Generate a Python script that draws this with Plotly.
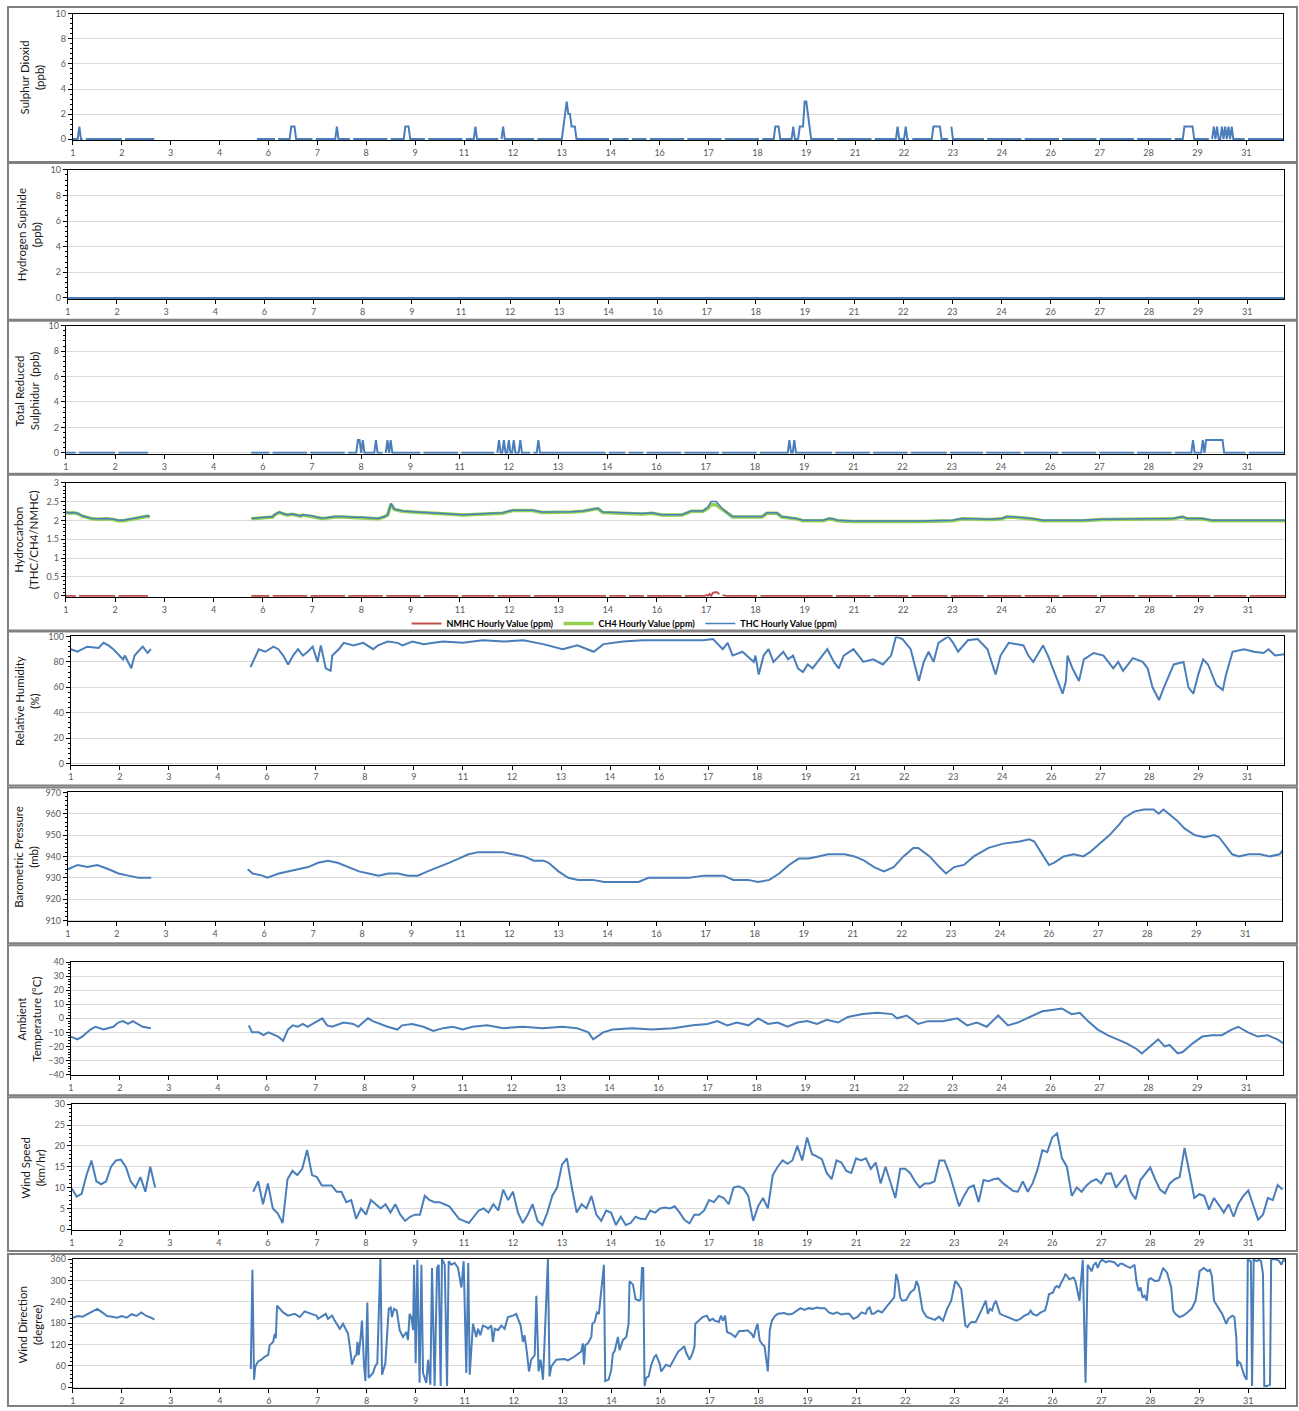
import plotly.graph_objects as go

W, H = 1299, 1411

# ---------------- axis ticks (one label every 30 hours, day of month) ----------------
tick_hours = list(range(0, 721, 30))
tick_labels = ["1", "2", "3", "4", "6", "7", "8", "9", "11", "12", "13", "14", "16",
               "17", "18", "19", "21", "22", "23", "24", "26", "27", "28", "29", "31"]
N_HOURS = 744

# ---------------- hourly gas analyser data ----------------
missing_hours = (51, 112)          # analyser offline (inclusive)
cal_gap_hours = [7, 31, 125, 148, 171, 194, 217, 240, 262, 284, 330, 342, 353, 376, 399,
                 422, 468, 491, 514, 538, 560, 583, 606, 629, 652, 675, 698, 720]

so2_spikes = [(4, 1), (134, 1), (135, 1), (136, 1), (162, 1), (204, 1), (205, 1), (206, 1),
              (247, 1), (264, 1), (301, 1), (302, 2), (303, 3), (304, 2), (305, 2), (306, 1),
              (307, 1), (308, 1), (431, 1), (432, 1), (433, 1), (442, 1), (446, 1), (447, 1),
              (448, 1), (449, 3), (450, 3), (451, 2), (452, 1), (506, 1), (511, 1), (528, 1),
              (529, 1), (530, 1), (531, 1), (532, 1), (539, 1), (682, 1), (683, 1), (684, 1),
              (685, 1), (686, 1), (687, 1), (700, 1), (702, 1), (705, 1), (707, 1), (709, 1),
              (711, 1)]

trs_spikes = [(178, 1), (179, 1), (181, 1), (189, 1), (196, 1), (198, 1), (264, 1), (267, 1),
              (270, 1), (273, 1), (277, 1), (288, 1), (441, 1), (444, 1), (687, 1), (693, 1),
              (695, 1), (696, 1), (697, 1), (698, 1), (699, 1), (700, 1), (701, 1), (702, 1),
              (703, 1), (704, 1), (705, 1)]
trs_gap_hours = [7, 31, 125, 148, 171, 194, 217, 240, 262, 284, 330, 342, 353, 376, 399,
                 422, 468, 491, 514, 538, 560, 583, 606, 629, 652, 675, 720]

h2s_baseline = 0.0

nmhc_bump = [(390, 0.02), (392, 0.05), (394, 0.08), (395, 0.1), (396, 0.1), (397, 0.08),
             (398, 0.05), (400, 0.02)]

# ---------------- hydrocarbon (hour, ppm) ----------------
thc_seg1 = [(0, 2.22), (2, 2.2), (4, 2.21), (7, 2.19), (10, 2.12), (13, 2.08), (16, 2.05),
            (20, 2.04), (25, 2.05), (29, 2.03), (32, 2.0), (35, 2.0), (38, 2.02), (41, 2.05),
            (44, 2.08), (47, 2.1), (50, 2.12), (51, 2.09)]
thc_seg2 = [(113, 2.05), (117, 2.06), (121, 2.07), (126, 2.1), (127, 2.15), (130, 2.22),
            (133, 2.17), (135, 2.15), (138, 2.17), (141, 2.13), (143, 2.12), (144, 2.15),
            (147, 2.13), (150, 2.12), (153, 2.08), (156, 2.06), (159, 2.07), (164, 2.1),
            (169, 2.1), (175, 2.08), (181, 2.08), (186, 2.06), (190, 2.05), (194, 2.1),
            (196, 2.15), (198, 2.45), (200, 2.3), (203, 2.27), (205, 2.25), (211, 2.23),
            (217, 2.22), (223, 2.2), (229, 2.2), (235, 2.17), (242, 2.15), (248, 2.16),
            (254, 2.18), (260, 2.19), (266, 2.2), (272, 2.27), (278, 2.28), (284, 2.27),
            (290, 2.22), (296, 2.22), (302, 2.22), (308, 2.23), (315, 2.25), (320, 2.28),
            (324, 2.32), (327, 2.22), (333, 2.21), (339, 2.2), (345, 2.19), (351, 2.18),
            (357, 2.2), (363, 2.15), (369, 2.15), (375, 2.15), (381, 2.25), (388, 2.25),
            (391, 2.35), (393, 2.5), (396, 2.5), (398, 2.4), (400, 2.3), (403, 2.2),
            (406, 2.1), (412, 2.1), (418, 2.1), (424, 2.1), (427, 2.2), (433, 2.2),
            (436, 2.1), (441, 2.08), (445, 2.05), (449, 2.0), (455, 2.0), (461, 2.0),
            (465, 2.05), (467, 2.04), (470, 2.0), (479, 1.98), (490, 1.98), (500, 1.97),
            (509, 1.98), (520, 1.98), (530, 2.0), (540, 2.0), (546, 2.05), (555, 2.04),
            (563, 2.03), (570, 2.05), (573, 2.1), (578, 2.09), (582, 2.08), (588, 2.05),
            (595, 2.0), (605, 2.0), (619, 2.0), (631, 2.03), (645, 2.03), (660, 2.04),
            (674, 2.05), (680, 2.1), (683, 2.05), (692, 2.05), (698, 2.0), (710, 2.0),
            (725, 2.0), (743, 2.0)]
ch4_seg1 = [(0, 2.21), (2, 2.19), (4, 2.2), (7, 2.18), (10, 2.11), (13, 2.07), (16, 2.04),
            (20, 2.03), (25, 2.04), (29, 2.02), (32, 1.99), (35, 1.99), (38, 2.01), (41, 2.04),
            (44, 2.07), (47, 2.09), (50, 2.11), (51, 2.08)]
ch4_seg2 = [(113, 2.04), (117, 2.05), (121, 2.06), (126, 2.09), (127, 2.14), (130, 2.21),
            (133, 2.16), (135, 2.14), (138, 2.16), (141, 2.12), (143, 2.11), (144, 2.14),
            (147, 2.12), (150, 2.11), (153, 2.07), (156, 2.05), (159, 2.06), (164, 2.09),
            (169, 2.09), (175, 2.07), (181, 2.07), (186, 2.05), (190, 2.04), (194, 2.09),
            (196, 2.14), (198, 2.43), (200, 2.29), (203, 2.26), (205, 2.24), (211, 2.22),
            (217, 2.21), (223, 2.19), (229, 2.19), (235, 2.16), (242, 2.14), (248, 2.15),
            (254, 2.17), (260, 2.18), (266, 2.19), (272, 2.26), (278, 2.27), (284, 2.26),
            (290, 2.21), (296, 2.21), (302, 2.21), (308, 2.22), (315, 2.24), (320, 2.27),
            (324, 2.31), (327, 2.21), (333, 2.2), (339, 2.19), (345, 2.18), (351, 2.17),
            (357, 2.19), (363, 2.14), (369, 2.14), (375, 2.14), (381, 2.24), (388, 2.24),
            (391, 2.32), (393, 2.42), (396, 2.41), (398, 2.34), (400, 2.27), (403, 2.19),
            (406, 2.09), (412, 2.09), (418, 2.09), (424, 2.09), (427, 2.19), (433, 2.19),
            (436, 2.09), (441, 2.07), (445, 2.04), (449, 1.99), (455, 1.99), (461, 1.99),
            (465, 2.04), (467, 2.03), (470, 1.99), (479, 1.97), (490, 1.97), (500, 1.96),
            (509, 1.97), (520, 1.97), (530, 1.99), (540, 1.99), (546, 2.04), (555, 2.03),
            (563, 2.02), (570, 2.04), (573, 2.09), (578, 2.08), (582, 2.07), (588, 2.04),
            (595, 1.99), (605, 1.99), (619, 1.99), (631, 2.02), (645, 2.02), (660, 2.03),
            (674, 2.04), (680, 2.09), (683, 2.04), (692, 2.04), (698, 1.99), (710, 1.99),
            (725, 1.99), (743, 1.99)]

# ---------------- relative humidity (hour, %) ----------------
rh_seg1 = [(0, 90), (4, 88), (10, 92), (17, 91), (20, 95), (23, 93), (26, 90), (29, 86),
           (32, 82), (33, 85), (35, 80), (37, 75), (39, 85), (41, 88), (44, 92), (47, 87),
           (49, 90)]
rh_seg2 = [(110, 76), (113, 85), (115, 90), (119, 88), (124, 92), (127, 90), (130, 85),
           (133, 78), (136, 85), (139, 90), (142, 85), (145, 88), (148, 92), (151, 80),
           (153, 93), (156, 75), (159, 73), (160, 85), (164, 90), (167, 95), (173, 93),
           (179, 95), (185, 90), (188, 93), (194, 96), (200, 95), (203, 93), (209, 96),
           (216, 94), (222, 95), (228, 96), (240, 95), (252, 97), (265, 96), (277, 97),
           (289, 94), (301, 90), (310, 93), (320, 88), (326, 94), (338, 96), (350, 97),
           (362, 97), (375, 97), (387, 97), (393, 98), (399, 90), (402, 95), (405, 85),
           (411, 88), (418, 80), (419, 85), (421, 70), (424, 85), (427, 90), (430, 80),
           (436, 88), (439, 82), (442, 85), (445, 75), (448, 72), (451, 78), (454, 75),
           (457, 80), (460, 85), (463, 90), (467, 80), (470, 75), (473, 85), (479, 90),
           (485, 80), (491, 82), (497, 78), (502, 85), (505, 100), (509, 98), (514, 90),
           (517, 75), (519, 65), (522, 80), (525, 88), (528, 80), (531, 95), (537, 100),
           (540, 95), (543, 88), (549, 97), (555, 98), (561, 90), (566, 70), (569, 85),
           (574, 95), (583, 93), (586, 85), (589, 80), (595, 93), (598, 85), (601, 75),
           (603, 68), (607, 55), (609, 65), (610, 85), (613, 75), (617, 65), (620, 82),
           (626, 87), (632, 85), (635, 80), (638, 75), (641, 80), (644, 73), (650, 83),
           (656, 80), (659, 75), (662, 60), (666, 50), (669, 60), (675, 78), (681, 80),
           (684, 60), (687, 55), (690, 70), (693, 82), (696, 78), (701, 62), (705, 58),
           (707, 70), (711, 88), (718, 90), (724, 88), (730, 87), (733, 90), (737, 85),
           (743, 86)]

# ---------------- barometric pressure (hour, mb) ----------------
bp_seg1 = [(0, 934), (6, 936), (12, 935), (18, 936), (25, 934), (31, 932), (37, 931),
           (43, 930), (51, 930)]
bp_seg2 = [(110, 934), (113, 932), (119, 931), (122, 930), (129, 932), (135, 933), (141, 934),
           (147, 935), (153, 937), (159, 938), (165, 937), (171, 935), (178, 933), (184, 932),
           (190, 931), (196, 932), (202, 932), (208, 931), (214, 931), (220, 933), (227, 935),
           (233, 937), (239, 939), (245, 941), (251, 942), (260, 942), (266, 942), (272, 941),
           (279, 940), (285, 938), (291, 938), (294, 937), (300, 933), (306, 930), (312, 929),
           (321, 929), (328, 928), (340, 928), (349, 928), (355, 930), (364, 930), (373, 930),
           (380, 930), (389, 931), (401, 931), (407, 929), (416, 929), (422, 928), (429, 929),
           (435, 932), (441, 936), (447, 939), (453, 939), (459, 940), (465, 941), (475, 941),
           (481, 940), (487, 938), (493, 935), (499, 933), (505, 935), (511, 940), (517, 944),
           (520, 944), (527, 940), (533, 935), (537, 932), (542, 935), (548, 936), (554, 940),
           (563, 944), (572, 946), (582, 947), (588, 948), (591, 947), (595, 942), (600, 936),
           (603, 937), (609, 940), (615, 941), (621, 940), (625, 942), (631, 946), (637, 950),
           (643, 955), (646, 958), (652, 961), (658, 962), (664, 962), (667, 960), (670, 962),
           (673, 960), (678, 957), (683, 953), (689, 950), (695, 949), (701, 950), (704, 949),
           (708, 945), (712, 941), (716, 940), (722, 941), (729, 941), (735, 940), (741, 941),
           (743, 943)]

# ---------------- ambient temperature (hour, degC) ----------------
temp_seg1 = [(0, -13), (4, -15), (7, -13), (12, -8), (15, -6), (20, -8), (26, -6), (29, -3),
             (32, -2), (35, -4), (38, -2), (44, -6), (49, -7)]
temp_seg2 = [(109, -5), (111, -10), (115, -10), (118, -12), (121, -10), (127, -13), (130, -16),
             (133, -8), (136, -5), (139, -6), (142, -4), (145, -6), (151, -2), (154, 0),
             (157, -5), (160, -6), (167, -3), (173, -4), (176, -6), (179, -3), (182, 0),
             (185, -2), (191, -5), (194, -6), (200, -8), (203, -5), (209, -4), (216, -6),
             (222, -9), (228, -7), (234, -6), (240, -8), (246, -6), (255, -5), (265, -7),
             (277, -6), (289, -7), (301, -6), (310, -7), (317, -10), (320, -15), (326, -10),
             (332, -8), (344, -7), (356, -8), (369, -7), (381, -5), (390, -4), (396, -2),
             (402, -5), (408, -3), (415, -5), (421, 0), (427, -4), (433, -3), (439, -6),
             (445, -3), (451, -2), (457, -4), (463, -1), (470, -3), (476, 1), (485, 3),
             (494, 4), (503, 3), (506, 0), (512, 2), (519, -4), (525, -2), (534, -2), (543, 0),
             (549, -5), (555, -3), (561, -6), (568, 2), (574, -5), (580, -3), (586, 0),
             (595, 5), (601, 6), (607, 7), (613, 3), (618, 4), (623, -2), (629, -8), (635, -12),
             (641, -15), (647, -18), (653, -22), (656, -25), (661, -20), (666, -15), (670, -20),
             (673, -19), (678, -25), (681, -24), (687, -18), (693, -13), (699, -12), (705, -12),
             (711, -8), (715, -6), (721, -10), (727, -13), (733, -12), (739, -15), (743, -18)]

# ---------------- wind speed (3-hourly, km/hr) ----------------
ws_seg1_start = 0
ws_seg1 = [9.8, 7.8, 8.5, 13, 16.5, 11.5, 10.8, 11.5, 15, 16.5, 16.7, 15, 11.5, 10, 12.5, 9,
           15, 10]
ws_seg2_start = 111
ws_seg2 = [9, 11.5, 6, 11, 5, 3.8, 1.5, 12, 14, 13, 14.5, 19, 13, 12.5, 10.5, 10.5, 10.5, 9, 9,
           6.5, 7, 2.5, 5, 3.5, 7, 6, 5, 6, 4, 6, 3.5, 2, 3, 3.5, 3.5, 8, 7, 6.5, 6.5, 6, 5.5, 4,
           2.5, 2, 1.5, 3, 4.5, 5, 4, 6, 4.5, 9.5, 7, 9, 4, 1.5, 3.5, 6, 2, 1, 4, 8, 10, 15.5, 17,
           10, 4, 6, 5, 8, 3.5, 2, 4.5, 4, 1, 3, 1, 1.5, 3, 2.5, 2.4, 4.5, 4, 5, 5.2, 5, 5.5, 4,
           2.2, 1.4, 3.5, 3.5, 4.5, 7, 6.5, 8, 7.5, 6, 10, 10.3, 9.8, 8, 2, 5.5, 7.5, 5, 13, 15,
           16.5, 15.7, 16.5, 20, 16.5, 22, 18, 17.5, 16.8, 13.5, 12, 16.5, 16, 14, 13.5, 17, 16.5,
           17, 14.5, 16, 11, 15, 11.5, 7.5, 14.5, 14.5, 13.5, 11.5, 10, 11, 11, 11.5, 16.5, 16.5,
           13.5, 9.5, 5.5, 8, 10, 10.5, 6.5, 11.8, 11.5, 12, 12.2, 11, 10, 9.2, 9, 11.5, 9, 11,
           14.3, 19, 18.5, 22, 23, 17, 15, 8, 10, 9, 10.5, 11.5, 12, 11, 13.3, 13.4, 10, 11.5, 13,
           9, 7.2, 11.8, 13.3, 14.8, 12, 9.5, 8.6, 11, 12, 12.5, 19.5, 13, 7.5, 8.4, 8, 4.7, 7.5,
           5.8, 4, 6, 3, 6.2, 8, 9.3, 5.8, 2.3, 3.5, 7.5, 7, 10.6, 9.5]
ws_step = 3

# ---------------- wind direction (hour, degree) ----------------
wd_seg1 = [(0, 195), (3, 200), (6, 198), (9, 205), (12, 212), (15, 220), (18, 210), (21, 200),
           (24, 198), (27, 195), (30, 200), (33, 195), (36, 205), (39, 200), (42, 210), (45, 200),
           (48, 195), (50, 190)]
wd_seg2 = [(109.0, 51), (110.0, 330), (111.0, 21), (111.8, 58), (113.5, 72), (115.5, 77),
           (117.6, 86), (119.6, 90), (120.6, 118), (122.7, 127), (123.7, 150), (124.3, 137),
           (125.1, 229), (126.7, 220), (128.8, 210), (131.8, 201), (135.9, 206), (139.0, 197),
           (142.0, 213), (146.1, 206), (149.2, 201), (150.2, 192), (154.9, 206), (156.3, 192),
           (158.8, 201), (160.4, 187), (163.5, 164), (165.5, 178), (168.6, 150), (170.2, 95),
           (171.0, 63), (172.7, 86), (173.7, 90), (174.3, 127), (175.1, 90), (176.3, 141),
           (177.1, 187), (178.4, 58), (179.2, 17), (180.4, 238), (181.2, 26), (183.9, 40),
           (185.3, 60), (186.5, 67), (188.0, 354), (188.4, 360), (189.4, 35), (191.4, 67),
           (193.5, 220), (194.7, 224), (195.5, 197), (196.7, 220), (198.4, 215), (200.2, 160),
           (202.2, 141), (204.3, 155), (205.3, 132), (206.3, 206), (207.3, 197), (208.4, 160),
           (209.0, 344), (210.0, 67), (211.0, 358), (212.4, 12), (213.5, 344), (214.5, 40),
           (216.5, 12), (217.6, 77), (219.0, 7), (220.0, 335), (221.6, 3), (223.1, 335),
           (224.1, 344), (225.3, 3), (226.1, 360), (227.8, 344), (229.2, 3), (230.2, 354),
           (231.8, 344), (233.9, 349), (235.9, 335), (238.0, 280), (239.4, 354), (241.0, 40),
           (242.2, 349), (243.1, 35), (245.1, 178), (247.1, 141), (248.2, 164), (249.6, 146),
           (251.2, 173), (253.3, 169), (254.3, 164), (256.3, 173), (257.3, 127), (258.4, 164),
           (260.4, 160), (262.4, 173), (264.5, 164), (266.5, 197), (269.6, 201), (271.6, 206),
           (272.7, 192), (274.3, 173), (275.7, 127), (276.7, 146), (278.2, 95), (279.4, 44),
           (280.8, 77), (282.9, 90), (283.9, 257), (285.3, 44), (286.5, 77), (288.0, 21),
           (291.0, 360), (292.0, 30), (293.1, 58), (296.1, 77), (301.2, 79), (303.3, 75),
           (307.3, 86), (310.4, 95), (311.4, 100), (312.4, 123), (313.1, 63), (313.9, 118),
           (315.5, 123), (317.6, 141), (318.2, 178), (319.6, 183), (321.0, 210), (322.2, 206),
           (324.7, 330), (325.3, 344), (326.1, 17), (328.2, 21), (329.8, 49), (330.8, 95),
           (331.8, 100), (332.9, 123), (333.9, 141), (334.9, 104), (336.9, 132), (339.0, 141),
           (340.0, 173), (340.4, 178), (341.0, 298), (343.1, 288), (344.7, 247), (347.1, 243),
           (347.8, 247), (348.6, 335), (349.4, 335), (350.2, 3), (351.2, 26), (352.7, 30),
           (354.3, 63), (356.3, 86), (357.3, 90), (359.4, 67), (360.4, 44), (363.3, 63),
           (365.8, 58), (368.3, 81), (370.8, 100), (373.3, 109), (374.5, 115), (375.8, 95),
           (377.8, 77), (379.5, 95), (380.8, 114), (381.3, 178), (383.3, 187), (385.8, 197),
           (388.3, 201), (390.0, 187), (392.0, 192), (393.2, 187), (395.7, 183), (397.0, 201),
           (398.2, 187), (399.5, 201), (400.7, 155), (403.2, 150), (405.7, 141), (408.2, 158),
           (410.7, 158), (413.2, 160), (415.7, 150), (417.0, 139), (418.2, 162), (419.4, 178),
           (420.7, 132), (421.9, 123), (423.7, 114), (425.7, 44), (426.9, 160), (428.2, 187),
           (430.2, 201), (431.9, 206), (435.7, 208), (438.2, 204), (440.7, 206), (443.2, 215),
           (445.7, 222), (448.2, 217), (450.6, 222), (453.1, 220), (455.6, 224), (458.1, 222),
           (460.6, 222), (463.1, 210), (465.6, 206), (468.1, 210), (470.6, 204), (473.1, 206),
           (475.6, 206), (478.1, 192), (480.6, 197), (483.1, 210), (485.6, 206), (486.8, 220),
           (488.1, 224), (489.3, 206), (490.6, 206), (493.1, 215), (495.6, 210), (498.1, 224),
           (500.6, 238), (503.1, 252), (504.3, 318), (505.5, 298), (506.8, 252), (508.0, 243),
           (510.5, 245), (513.0, 266), (515.5, 275), (516.8, 298), (518.0, 284), (520.5, 215),
           (523.0, 197), (525.5, 192), (528.0, 189), (530.5, 198), (533.0, 187), (535.5, 220),
           (538.0, 243), (540.5, 298), (541.7, 293), (544.2, 275), (545.5, 224), (546.7, 173),
           (548.0, 169), (549.2, 178), (550.5, 183), (553.0, 183), (555.5, 206), (558.0, 233),
           (559.2, 243), (560.5, 206), (561.7, 220), (563.0, 215), (564.2, 233), (565.4, 243),
           (566.7, 224), (567.9, 206), (570.4, 201), (572.9, 197), (575.4, 192), (577.9, 187),
           (580.4, 192), (582.9, 201), (585.4, 206), (586.7, 215), (587.9, 206), (590.4, 201),
           (592.9, 210), (595.4, 215), (596.6, 233), (597.9, 261), (600.4, 266), (601.6, 280),
           (602.9, 284), (604.1, 280), (605.4, 294), (606.6, 303), (607.9, 317), (609.1, 312),
           (610.4, 303), (612.9, 308), (614.1, 298), (615.4, 270), (616.6, 243), (618.6, 358),
           (620.3, 12), (621.6, 344), (622.8, 335), (624.1, 326), (625.3, 344), (626.6, 349),
           (627.8, 335), (629.1, 351), (630.3, 358), (631.6, 354), (632.8, 351), (634.1, 354),
           (635.3, 354), (637.8, 351), (639.1, 344), (640.3, 340), (641.6, 347), (642.8, 347),
           (645.3, 340), (647.8, 335), (650.3, 344), (651.5, 298), (652.8, 270), (654.0, 280),
           (655.3, 252), (656.5, 257), (657.8, 243), (659.0, 303), (660.3, 306), (662.8, 298),
           (665.3, 300), (667.8, 335), (670.3, 321), (671.5, 298), (672.8, 280), (674.0, 215),
           (675.3, 206), (677.8, 197), (680.2, 201), (682.7, 210), (685.2, 220), (687.7, 243),
           (690.2, 326), (692.7, 335), (695.2, 326), (696.5, 330), (697.7, 312), (699.0, 243),
           (700.2, 233), (701.5, 224), (702.7, 215), (704.0, 206), (705.2, 192), (706.5, 178),
           (707.7, 192), (709.0, 197), (710.2, 201), (711.5, 197), (712.7, 137), (713.2, 58),
           (714.0, 72), (715.2, 67), (716.5, 44), (717.7, 30), (719.0, 21), (719.7, 358),
           (721.6, 354), (722.3, 3), (723.3, 358), (725.3, 354), (726.5, 358), (727.8, 354),
           (729.0, 318), (729.8, 3), (731.5, 3), (733.3, 7), (734.0, 358), (735.2, 360),
           (737.7, 358), (739.0, 354), (740.3, 344), (741.5, 358), (742.7, 354)]

# ---------------- helpers ----------------
BLUE = "#4A7EBB"
RED = "#C0504D"
GREEN = "#92D050"
FONT = "Lato, 'Open Sans', sans-serif"


def hourly(spikes, gaps, missing, base=0.0):
    vals = [base] * N_HOURS
    for h, v in spikes:
        vals[h] = v
    for g in gaps:
        vals[g] = None
    if missing:
        for h in range(missing[0], missing[1] + 1):
            vals[h] = None
    return list(range(N_HOURS)), vals


def join_pairs(*segs):
    xs, ys = [], []
    for k, seg in enumerate(segs):
        if k:
            xs.append(None)
            ys.append(None)
        xs += [p[0] for p in seg]
        ys += [p[1] for p in seg]
    return xs, ys


def join_regular(step, *segs):
    xs, ys = [], []
    for k, (start, vals) in enumerate(segs):
        if k:
            xs.append(None)
            ys.append(None)
        xs += [start + step * i for i in range(len(vals))]
        ys += list(vals)
    return xs, ys


# panel geometry in pixels: plot box (l, r, t, b) and outer frame (t, b)
panels = [
    dict(box=(70, 1283, 8, 135), frame=(1, 157), yr=(0, 10), dt=2,
         title="Sulphur Dioxid<br>(ppb)", tpos=(30, 72)),
    dict(box=(65, 1284, 165, 295), frame=(158, 316), yr=(0, 10), dt=2,
         title="Hydrogen Suphide<br>(ppb)", tpos=(26, 230)),
    dict(box=(63, 1284, 322, 451), frame=(317, 471), yr=(0, 10), dt=2,
         title="Total Reduced<br>Sulphidur  (ppb)", tpos=(24, 387)),
    dict(box=(63, 1285, 480, 595), frame=(472, 629), yr=(0, 3), dt=0.5,
         title="Hydrocarbon<br>(THC/CH4/NMHC)", tpos=(23, 537)),
    dict(box=(68, 1284, 635, 764), frame=(630, 785), yr=(0, 100), dt=20,
         title="Relative Humidity<br>(%)", tpos=(24, 700)),
    dict(box=(65, 1282, 792, 922), frame=(787, 944), yr=(910, 970), dt=10,
         title="Barometric Pressure<br>(mb)", tpos=(23, 857)),
    dict(box=(68, 1283, 963, 1077), frame=(946, 1097), yr=(-40, 40), dt=10,
         title="Ambient<br>Temperature (°C)", tpos=(26, 1020)),
    dict(box=(69, 1285, 1106, 1233), frame=(1099, 1254), yr=(0, 30), dt=5,
         title="Wind Speed<br>(km/hr)", tpos=(30, 1170)),
    dict(box=(70, 1285, 1262, 1392), frame=(1257, 1410), yr=(0, 360), dt=60,
         title="Wind Direction<br>(degree)", tpos=(27, 1328)),
]

fig = go.Figure()


def add_line(i, x, y, color, width=2, name=None, legend=False):
    fig.add_trace(go.Scatter(
        x=x, y=y, mode="lines", line=dict(color=color, width=width),
        name=name or "", showlegend=legend, hoverinfo="skip",
        xaxis="x" if i == 1 else f"x{i}", yaxis="y" if i == 1 else f"y{i}"))


# panel 1: SO2
x, y = hourly(so2_spikes, cal_gap_hours, missing_hours)
add_line(1, x, y, BLUE)
# panel 2: H2S
x, y = hourly([], [], None, base=h2s_baseline)
add_line(2, x, y, BLUE)
# panel 3: TRS
x, y = hourly(trs_spikes, trs_gap_hours, missing_hours)
add_line(3, x, y, BLUE)
# panel 4: hydrocarbons
x, y = hourly(nmhc_bump, cal_gap_hours, missing_hours)
add_line(4, x, y, RED, 2, "<b>NMHC Hourly Value (ppm)</b>", True)
x, y = join_pairs(ch4_seg1, ch4_seg2)
add_line(4, x, y, GREEN, 3.5, "<b>CH4 Hourly Value (ppm)</b>", True)
x, y = join_pairs(thc_seg1, thc_seg2)
add_line(4, x, y, BLUE, 1.5, "<b>THC Hourly Value (ppm)</b>", True)
# panel 5..9
x, y = join_pairs(rh_seg1, rh_seg2)
add_line(5, x, y, BLUE)
x, y = join_pairs(bp_seg1, bp_seg2)
add_line(6, x, y, BLUE)
x, y = join_pairs(temp_seg1, temp_seg2)
add_line(7, x, y, BLUE)
x, y = join_regular(ws_step, (ws_seg1_start, ws_seg1), (ws_seg2_start, ws_seg2))
add_line(8, x, y, BLUE)
x, y = join_pairs(wd_seg1, wd_seg2)
add_line(9, x, y, BLUE)

layout = dict(
    width=W, height=H, margin=dict(l=0, r=0, t=0, b=0), autosize=False,
    paper_bgcolor="white", plot_bgcolor="white",
    font=dict(family=FONT, size=9, color="#595959"),
    showlegend=True,
    legend=dict(orientation="h", x=623 / W, xanchor="center", y=1 - 622 / H, yanchor="middle",
                font=dict(family=FONT, size=9, color="#000000"), bgcolor="rgba(0,0,0,0)",
                itemwidth=30, tracegroupgap=0),
)

shapes = []
annotations = []
for i, p in enumerate(panels, start=1):
    l, r, t, b = p["box"]
    ylo, yhi = p["yr"]
    pad = (yhi - ylo) * 0.008
    xk = "xaxis" if i == 1 else f"xaxis{i}"
    yk = "yaxis" if i == 1 else f"yaxis{i}"
    layout[xk] = dict(
        domain=[l / W, r / W], anchor="y" if i == 1 else f"y{i}",
        range=[0, 742.5], tickmode="array", tickvals=tick_hours, ticktext=tick_labels,
        ticks="outside", ticklen=4, tickcolor="black", tickwidth=1,
        showline=True, linecolor="black", linewidth=1, mirror=True,
        showgrid=False, zeroline=False, layer="below traces",
        tickfont=dict(family=FONT, size=9, color="#595959"), fixedrange=True)
    layout[yk] = dict(
        domain=[1 - b / H, 1 - t / H], anchor="x" if i == 1 else f"x{i}",
        range=[ylo - pad, yhi], tick0=ylo, dtick=p["dt"],
        ticks="outside", ticklen=4, tickcolor="black", tickwidth=1,
        minor=dict(ticks="outside", ticklen=2, tickcolor="black", dtick=p["dt"] / 5,
                   tick0=ylo, showgrid=False),
        showline=True, linecolor="black", linewidth=1, mirror=True,
        showgrid=True, gridcolor="#D9D9D9", gridwidth=1, zeroline=False,
        layer="below traces",
        tickfont=dict(family=FONT, size=9, color="#595959"), fixedrange=True)
    ft, fb = p["frame"]
    shapes.append(dict(type="rect", xref="paper", yref="paper",
                       x0=5 / W, x1=1297 / W, y0=1 - fb / H, y1=1 - ft / H,
                       line=dict(color="#808080", width=2), fillcolor="rgba(0,0,0,0)",
                       layer="above"))
    tx, ty = p["tpos"]
    annotations.append(dict(text=p["title"], xref="paper", yref="paper",
                            x=tx / W, y=1 - ty / H, xanchor="center", yanchor="middle",
                            textangle=-90, showarrow=False,
                            font=dict(family=FONT, size=11.5, color="#1a1a1a")))

layout["shapes"] = shapes
layout["annotations"] = annotations
fig.update_layout(**layout)

page_fix = ("document.documentElement.style.margin='0';document.body.style.margin='0';"
            "document.body.style.padding='0';document.body.style.overflow='hidden';")
fig.write_html("out.html", post_script=page_fix,
               config={"displayModeBar": False, "staticPlot": True})
